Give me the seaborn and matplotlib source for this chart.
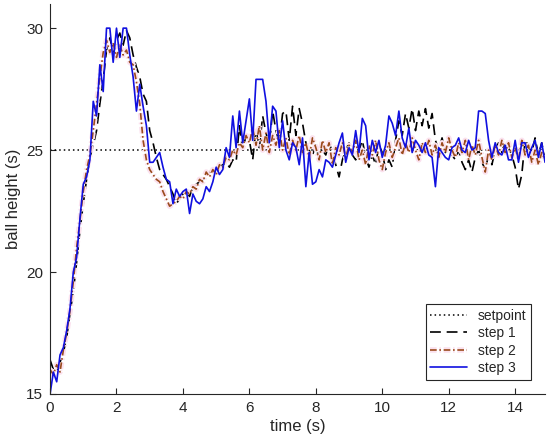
import numpy as np
import pandas as pd
import matplotlib
matplotlib.use("Agg")
import matplotlib.pyplot as plt
import matplotlib.patheffects as pe
import seaborn as sns

# sampled every 0.1 s
time_s = np.round(np.arange(150) * 0.1, 1)

step1 = [
    16.4, 16.0, 15.9, 16.3, 16.7, 17.3, 18.3, 19.2, 20.4, 21.7,
    22.8, 23.8, 24.7, 25.2, 25.8, 26.9, 27.9, 29.1, 29.6, 29.0,
    29.5, 29.8, 29.3, 29.9, 29.6, 28.9, 28.4, 28.0, 27.3, 27.0,
    25.8, 25.3, 24.7, 24.2, 24.0, 23.8, 23.5, 23.2, 22.8, 23.0,
    23.2, 23.3, 23.1, 23.5, 23.6, 23.7, 23.8, 23.9, 24.1, 24.2,
    24.0, 24.3, 24.4, 24.5, 24.3, 24.6, 24.5, 26.0, 25.0, 25.6,
    25.4, 24.6, 25.9, 25.1, 26.4, 25.7, 25.2, 26.6, 25.8, 25.3,
    26.5, 26.6, 25.4, 26.8, 25.6, 26.7, 26.1, 25.3, 25.0, 24.8,
    25.2, 24.6, 25.0, 24.8, 25.3, 24.9, 24.4, 23.9, 24.6, 25.0,
    25.3, 24.8, 24.6, 25.0, 25.4, 24.7, 24.3, 24.8, 24.4, 25.2,
    24.9, 24.2, 24.6, 24.3, 25.4, 26.2, 25.6, 26.5, 25.9, 26.7,
    25.8, 26.6, 26.0, 26.7, 25.9, 26.5, 25.4, 25.0, 25.5, 24.9,
    25.2, 24.8, 24.6, 25.0, 24.5, 24.2, 24.6, 24.1, 24.7, 25.0,
    24.5, 24.2, 24.8, 24.4, 25.0, 25.3, 24.9, 25.4, 25.1, 24.8,
    24.3, 23.4, 24.0, 25.4, 25.2, 24.9, 25.5, 24.8, 25.3, 24.6,
]

step2 = [
    16.0, 15.8, 16.2, 15.9, 16.8, 17.5, 18.4, 19.6, 21.0, 22.1,
    23.3, 24.2, 24.8, 25.8, 26.9, 28.0, 29.0, 29.5, 29.0, 29.4,
    28.8, 29.3, 28.9, 29.1, 28.6, 28.5, 27.8, 26.9, 25.4, 24.6,
    24.2, 24.0, 23.8, 23.7, 23.3, 23.0, 22.7, 22.8, 22.9, 23.1,
    23.0, 23.3, 23.2, 23.5, 23.4, 23.8, 23.7, 24.1, 23.9, 24.2,
    24.0, 24.4, 24.3, 24.7, 24.6, 25.0, 24.8, 25.3, 25.1, 25.6,
    25.3, 25.9, 25.2, 26.0, 25.0, 25.7, 24.9, 25.6, 25.2, 25.8,
    25.0, 25.5, 24.8, 25.4, 25.0, 25.6, 24.9, 25.3, 24.7, 25.5,
    25.1, 24.6, 25.4, 24.9, 25.3, 24.4, 25.1, 24.8, 25.3, 24.7,
    25.2, 24.9, 25.4, 24.6, 25.0, 24.4, 25.2, 24.8, 25.4, 24.6,
    24.2, 24.9, 25.3, 24.7, 25.1, 25.5, 24.8, 25.3, 24.9, 25.5,
    25.0, 24.6, 25.3, 24.9, 25.4, 24.8, 25.2, 24.7, 25.3, 24.9,
    25.5, 25.0, 24.7, 25.3, 24.9, 25.4, 24.6, 25.2, 24.8, 25.4,
    24.7, 24.1, 25.0, 24.6, 25.2, 24.8, 25.4, 24.9, 25.3, 24.7,
    25.1, 24.6, 25.4, 24.8, 25.2, 24.5, 25.0, 24.4, 24.9, 24.6,
]

step3 = [
    15.0, 15.9, 15.5, 16.6, 16.9, 17.6, 18.5, 20.0, 20.6, 22.2,
    23.6, 23.9, 24.6, 27.0, 26.4, 28.5, 27.4, 30.0, 30.0, 28.6,
    30.0, 28.8, 30.0, 30.0, 28.9, 28.0, 26.6, 27.7, 26.8, 26.0,
    24.5, 24.5, 24.7, 24.9, 24.3, 23.8, 23.7, 22.8, 23.4, 23.1,
    23.3, 23.4, 22.4, 23.2, 22.9, 22.8, 23.0, 23.5, 23.3, 23.7,
    24.3, 24.0, 24.2, 25.1, 24.7, 26.4, 25.1, 26.6, 25.3, 26.2,
    27.1, 25.4, 27.9, 27.9, 27.9, 27.0, 25.3, 26.8, 26.6, 25.1,
    26.2, 25.0, 24.6, 25.3, 25.1, 24.4, 25.5, 23.5, 24.9, 23.6,
    23.7, 24.2, 23.9, 24.6, 24.5, 24.3, 24.8, 25.3, 25.7, 24.5,
    25.1, 24.8, 25.8, 24.9, 26.3, 26.0, 24.6, 25.4, 24.9, 25.4,
    24.7, 25.2, 26.4, 26.1, 25.6, 26.6, 25.5, 25.1, 25.9, 24.9,
    25.4, 25.2, 24.9, 25.3, 24.8, 24.7, 23.5, 25.1, 24.9, 24.7,
    24.6, 25.1, 25.2, 25.5, 25.0, 24.9, 25.4, 25.0, 25.1, 26.6,
    26.6, 26.5, 25.4, 24.7, 25.3, 24.9, 24.8, 25.2, 24.6, 24.6,
    25.4, 24.5, 25.3, 25.3, 24.7, 25.1, 25.4, 24.7, 25.3, 24.5,
]

setpoint = 25.0

df = pd.DataFrame({"time": time_s, "step 1": step1, "step 2": step2, "step 3": step3})

sns.set_theme(style="ticks")
plt.rcParams["font.family"] = ["Liberation Sans", "DejaVu Sans"]

fig = plt.figure(figsize=(5.5, 4.47), dpi=100)
ax = fig.add_axes([0.091, 0.1186, 0.9, 0.873])

ax.plot([0, 14.9], [setpoint, setpoint], color="black", linestyle=(0, (1, 2)),
        linewidth=1.1, label="setpoint")

sns.lineplot(data=df, x="time", y="step 1", ax=ax, color="black",
             linewidth=1.2, label="step 1")
ax.lines[-1].set_linestyle((0, (6.5, 3.5)))

sns.lineplot(data=df, x="time", y="step 2", ax=ax, color="#9a4a1c",
             linewidth=1.2, label="step 2")
ax.lines[-1].set_linestyle((0, (4, 1.6, 1, 1.6)))
ax.lines[-1].set_path_effects([pe.Stroke(linewidth=4, foreground="#fbe1ee"), pe.Normal()])

sns.lineplot(data=df, x="time", y="step 3", ax=ax, color="#1010e0",
             linewidth=1.2, label="step 3")

ax.set_xlim(0, 14.9)
ax.set_ylim(15, 31)
ax.set_xticks([0, 2, 4, 6, 8, 10, 12, 14])
ax.set_yticks([15, 20, 25, 30])
ax.tick_params(direction="in", labelsize=11, length=4, width=0.8,
               colors="#262626", pad=5)
ax.set_xlabel("time (s)", fontsize=12, labelpad=3)
ax.set_ylabel("ball height (s)", fontsize=12, labelpad=4)
sns.despine(ax=ax)
for side in ["left", "bottom"]:
    ax.spines[side].set_color("#262626")
    ax.spines[side].set_linewidth(0.8)

leg = ax.legend(loc="lower right", fontsize=10, frameon=True, fancybox=False,
                framealpha=1, edgecolor="#262626", handlelength=2.6,
                borderaxespad=1.0, labelspacing=0.25, borderpad=0.35)
leg.get_frame().set_linewidth(0.8)

fig.savefig("out.png", dpi=100)
